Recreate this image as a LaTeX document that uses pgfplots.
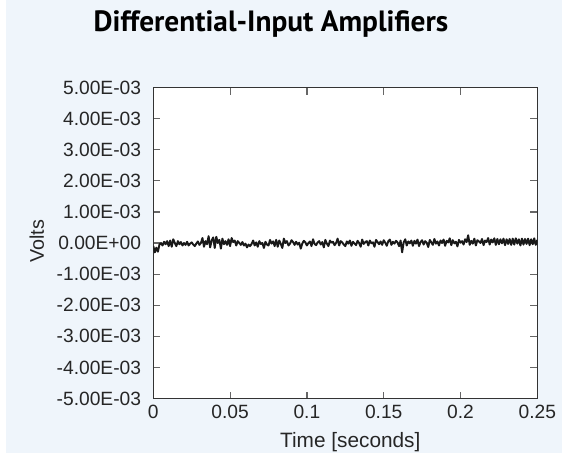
\documentclass[border=0pt]{standalone}
\usepackage{fontspec}
\setmainfont{Liberation Sans}
\newfontfamily\tfont{PT Sans}
\usepackage{pgfplots}
\pgfplotsset{compat=1.18}
\definecolor{panel}{RGB}{239,245,251}
\begin{document}
\begin{tikzpicture}
\begin{scope}[x=0.75pt,y=0.75pt]
\path[use as bounding box] (0,0) rectangle (568,458);
\fill[white] (0,0) rectangle (568,458);
\fill[panel] (6,5) rectangle (562,458);
\node[anchor=base, font=\tfont\bfseries\fontsize{22}{26}\selectfont, inner sep=0pt] at (271,426) {Differential-Input Amplifiers};
\end{scope}
\begin{axis}[
  at={(114.975pt,44.625pt)}, anchor=south west,
  scale only axis, width=288pt, height=233.25pt,
  xmin=0, xmax=0.25, ymin=-5, ymax=5,
  xtick={0,0.05,0.1,0.15,0.2,0.25},
  xticklabels={0,0.05,0.1,0.15,0.2,0.25},
  ytick={-5,-4,-3,-2,-1,0,1,2,3,4,5},
  yticklabels={-5.00E-03,-4.00E-03,-3.00E-03,-2.00E-03,-1.00E-03,0.00E+00,1.00E-03,2.00E-03,3.00E-03,4.00E-03,5.00E-03},
  tick align=inside, major tick length=5.25pt,
  tick style={color=black!60, line width=0.9pt},
  axis line style={color=black!80, line width=1.1pt},
  axis background/.style={fill=white},
  ticklabel style={font=\fontsize{14.4}{16}\selectfont, text=black!85, inner sep=0pt},
  yticklabel style={anchor=east, xshift=-9pt},
  xticklabel style={anchor=north, yshift=-4.6pt},
  xlabel={Time [seconds]}, ylabel={Volts},
  every axis x label/.style={at={(axis description cs:0.513,-0.158)}, anchor=base, font=\fontsize{15.6}{18}\selectfont, text=black!85, inner sep=0pt},
  every axis y label/.style={at={(axis description cs:-0.285,0.506)}, anchor=base, rotate=90, font=\fontsize{14.8}{17}\selectfont, text=black!85, inner sep=0pt},
]
\addplot[color=black!90, line width=1.45pt, line join=round] coordinates {
(0.000,-0.10)(0.001,-0.30)(0.002,-0.15)(0.003,-0.28)(0.004,-0.05)(0.005,0.00)(0.006,-0.08)(0.007,0.04)(0.008,-0.04)(0.009,0.06)
(0.010,-0.10)(0.011,0.08)(0.012,-0.12)(0.013,0.12)(0.014,0.00)(0.015,-0.10)(0.016,0.06)(0.017,-0.04)(0.018,0.03)(0.019,-0.08)
(0.020,0.00)(0.021,-0.06)(0.022,0.04)(0.023,-0.08)(0.024,-0.02)(0.025,0.02)(0.026,-0.05)(0.027,-0.10)(0.028,-0.02)(0.029,0.05)
(0.030,-0.06)(0.031,0.00)(0.032,0.16)(0.033,-0.12)(0.034,0.06)(0.035,-0.04)(0.036,0.22)(0.037,-0.14)(0.038,0.08)(0.039,0.18)
(0.040,-0.16)(0.041,0.20)(0.042,0.00)(0.043,0.10)(0.044,-0.18)(0.045,0.14)(0.046,-0.04)(0.047,0.06)(0.048,-0.06)(0.049,0.12)
(0.050,-0.10)(0.051,0.16)(0.052,0.03)(0.053,0.08)(0.054,-0.08)(0.055,0.06)(0.056,0.00)(0.057,-0.06)(0.058,0.03)(0.059,-0.08)
(0.060,-0.02)(0.061,-0.14)(0.062,-0.05)(0.063,-0.10)(0.064,-0.03)(0.065,0.08)(0.066,-0.08)(0.067,0.02)(0.068,-0.12)(0.069,0.06)
(0.070,-0.03)(0.071,0.00)(0.072,-0.16)(0.073,0.04)(0.074,-0.05)(0.075,-0.08)(0.076,0.10)(0.077,-0.02)(0.078,0.05)(0.079,-0.10)
(0.080,0.10)(0.081,-0.12)(0.082,0.08)(0.083,-0.03)(0.084,-0.16)(0.085,0.14)(0.086,0.00)(0.087,0.06)(0.088,-0.08)(0.089,-0.02)
(0.090,0.09)(0.091,0.03)(0.092,-0.06)(0.093,0.04)(0.094,-0.05)(0.095,0.01)(0.096,-0.18)(0.097,-0.02)(0.098,0.07)(0.099,0.02)
(0.100,-0.08)(0.101,0.00)(0.102,0.05)(0.103,-0.10)(0.104,0.12)(0.105,-0.03)(0.106,-0.07)(0.107,0.02)(0.108,0.06)(0.109,-0.05)
(0.110,0.03)(0.111,-0.14)(0.112,0.10)(0.113,-0.02)(0.114,-0.10)(0.115,0.08)(0.116,0.01)(0.117,0.04)(0.118,-0.07)(0.119,0.00)
(0.120,0.14)(0.121,-0.08)(0.122,0.06)(0.123,0.02)(0.124,-0.05)(0.125,-0.10)(0.126,0.05)(0.127,-0.02)(0.128,0.08)(0.129,-0.09)
(0.130,0.04)(0.131,-0.02)(0.132,-0.07)(0.133,0.07)(0.134,0.00)(0.135,-0.12)(0.136,0.11)(0.137,-0.03)(0.138,0.03)(0.139,0.06)
(0.140,-0.08)(0.141,0.08)(0.142,-0.01)(0.143,0.02)(0.144,-0.12)(0.145,0.10)(0.146,0.03)(0.147,-0.04)(0.148,0.05)(0.149,-0.06)
(0.150,0.09)(0.151,0.01)(0.152,-0.09)(0.153,0.06)(0.154,0.11)(0.155,-0.06)(0.156,0.04)(0.157,-0.02)(0.158,0.07)(0.159,0.02)
(0.160,-0.10)(0.161,0.08)(0.162,-0.30)(0.163,0.02)(0.164,0.12)(0.165,-0.08)(0.166,0.05)(0.167,-0.01)(0.168,0.08)(0.169,-0.09)
(0.170,0.07)(0.171,-0.02)(0.172,0.11)(0.173,-0.10)(0.174,0.03)(0.175,0.09)(0.176,-0.05)(0.177,0.06)(0.178,0.01)(0.179,-0.13)
(0.180,0.10)(0.181,0.02)(0.182,-0.06)(0.183,0.13)(0.184,-0.02)(0.185,0.05)(0.186,-0.08)(0.187,0.08)(0.188,0.00)(0.189,0.11)
(0.190,-0.09)(0.191,0.07)(0.192,0.02)(0.193,0.15)(0.194,-0.07)(0.195,0.09)(0.196,-0.01)(0.197,0.04)(0.198,-0.11)(0.199,0.10)
(0.200,0.01)(0.201,0.06)(0.202,-0.05)(0.203,0.12)(0.204,0.03)(0.205,0.25)(0.206,-0.06)(0.207,0.07)(0.208,-0.02)(0.209,0.14)
(0.210,-0.08)(0.211,0.09)(0.212,0.05)(0.213,0.00)(0.214,0.13)(0.215,-0.07)(0.216,0.08)(0.217,0.03)(0.218,0.16)(0.219,-0.05)
(0.220,0.11)(0.221,0.02)(0.222,0.15)(0.223,-0.06)(0.224,0.13)(0.225,-0.04)(0.226,0.12)(0.227,-0.01)(0.228,0.14)(0.229,-0.07)
(0.230,0.12)(0.231,-0.03)(0.232,0.13)(0.233,-0.06)(0.234,0.14)(0.235,-0.05)(0.236,0.15)(0.237,-0.02)(0.238,0.12)(0.239,-0.08)
(0.240,0.14)(0.241,-0.05)(0.242,0.13)(0.243,-0.03)(0.244,0.14)(0.245,-0.07)(0.246,0.12)(0.247,-0.04)(0.248,0.15)(0.249,-0.06)
(0.250,0.10)
};
\end{axis}
\end{tikzpicture}
\end{document}
